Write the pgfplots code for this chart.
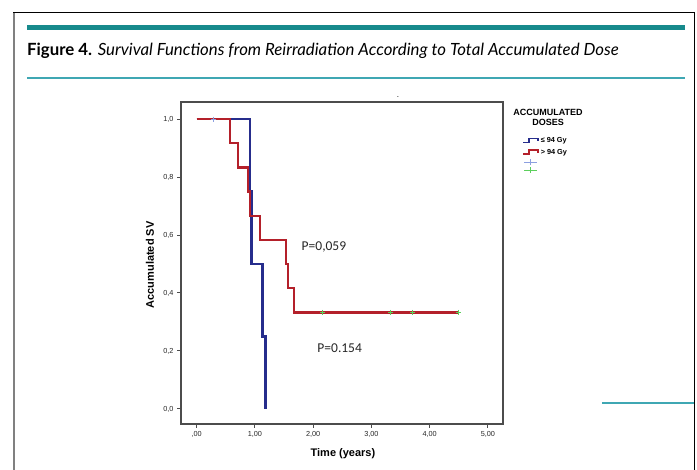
\documentclass[border=0pt]{standalone}
\usepackage{pgfplots}
\pgfplotsset{compat=1.18}
\usepackage{fontspec}
\setmainfont{Liberation Sans}
\newfontfamily\titlefont{Lato}
\newfontfamily\calfont{Carlito}
\definecolor{curveblue}{HTML}{262D8C}
\definecolor{curvered}{HTML}{B4202A}
\definecolor{censorblue}{HTML}{8C9FE0}
\definecolor{censorgreen}{HTML}{5CCF5C}
\definecolor{tealA}{HTML}{178A8C}
\definecolor{tealB}{HTML}{3FA7B3}
\pgfplotsset{
  stepleg/.style={legend image code/.code={\draw[##1] (0pt,-2pt) -- (6pt,-2pt) -- (6pt,2pt) -- (15pt,2pt) -- (15pt,-1pt);}},
  crossleg/.style={legend image code/.code={\draw[##1] (1pt,0pt) -- (14pt,0pt); \draw[##1] (7.5pt,-3pt) -- (7.5pt,3pt);}},
}
\begin{document}
\begin{tikzpicture}
\path[use as bounding box] (0pt,0pt) rectangle (697pt,470pt);
% frame
\draw[gray, line width=1.5pt] (14pt,0pt) -- (14pt,458pt);
\draw[black, line width=1.3pt] (13.3pt,457.7pt) -- (694.5pt,457.7pt) -- (694.5pt,0pt);
\fill[tealA] (27pt,439.5pt) rectangle (685pt,445pt);
\draw[tealB, line width=1.5pt] (27pt,392pt) -- (685pt,392pt);
\draw[tealB, line width=1.5pt] (602pt,67pt) -- (694pt,67pt);
\node[anchor=base west, inner sep=0pt] at (27pt,414pt) {\titlefont\fontsize{16.8}{19}\selectfont\textbf{Figure 4.} \textit{Survival Functions from Reirradiation According to Total Accumulated Dose}};
\node[inner sep=0pt, font=\fontsize{8}{8}\selectfont] at (398pt,373pt) {.};
\begin{axis}[
  at={(181pt,46pt)}, anchor=south west,
  scale only axis, width=322pt, height=322pt,
  xmin=-0.27, xmax=5.26, ymin=-0.052, ymax=1.059,
  clip=false,
  axis line style={gray!60!black, line width=1.2pt},
  xtick={0,1,2,3,4,5}, xticklabels={{,00},{1,00},{2,00},{3,00},{4,00},{5,00}},
  ytick={0,0.2,0.4,0.6,0.8,1}, yticklabels={{0,0},{0,2},{0,4},{0,6},{0,8},{1,0}},
  tick align=outside, tick pos=left, major tick length=4pt,
  tick style={gray!60!black, line width=1pt},
  tick label style={font=\fontsize{7.3}{8}\selectfont, text=black!85},
  xlabel={Time (years)}, ylabel={Accumulated SV},
  label style={font=\bfseries\fontsize{11}{13}\selectfont},
  xlabel style={at={(axis description cs:0.503,-0.0932)}, anchor=center},
  ylabel style={at={(axis description cs:-0.0963,0.494)}, anchor=center},
  legend cell align=left,
  legend style={at={(axis description cs:1.059,0.8975)}, anchor=north west, draw=none, fill=none, inner sep=0pt, font=\bfseries\fontsize{7.3}{8}\selectfont, row sep=1.2pt},
]
\addplot[curveblue, line width=2.2pt, const plot, forget plot] coordinates {(0,1) (0.91,0.75) (0.94,0.5) (1.13,0.25) (1.18,0)};
\addplot[curvered, line width=2.2pt, const plot, forget plot] coordinates {(0,1) (0.57,0.917) (0.71,0.833) (0.88,0.75) (0.92,0.667) (1.09,0.583) (1.54,0.5) (1.57,0.417) (1.67,0.333) (4.49,0.333)};
\addplot[only marks, mark=+, mark size=2.5pt, censorblue, mark options={line width=0.8pt}, forget plot] coordinates {(0.29,1)};
\addplot[only marks, mark=+, mark size=2.5pt, censorgreen, mark options={line width=0.8pt}, forget plot] coordinates {(2.16,0.333) (3.33,0.333) (3.71,0.333) (4.49,0.333)};
\addlegendimage{stepleg, curveblue, line width=1.6pt}\addlegendentry{≤ 94 Gy}
\addlegendimage{stepleg, curvered, line width=1.6pt}\addlegendentry{> 94 Gy}
\addlegendimage{crossleg, censorblue, line width=0.8pt}\addlegendentry{}
\addlegendimage{crossleg, censorgreen, line width=0.8pt}\addlegendentry{}
\node[font=\bfseries\fontsize{9}{10.5}\selectfont, align=center] at (axis description cs:1.14,0.952) {ACCUMULATED\\DOSES};
\node[anchor=base west, inner sep=0pt, font=\calfont\fontsize{13.5}{16}\selectfont, text=black!85] at (axis cs:1.80,0.546) {P=0,059};
\node[anchor=base west, inner sep=0pt, font=\calfont\fontsize{13.5}{16}\selectfont, text=black!85] at (axis cs:2.07,0.196) {P=0.154};
\end{axis}
\end{tikzpicture}
\end{document}
